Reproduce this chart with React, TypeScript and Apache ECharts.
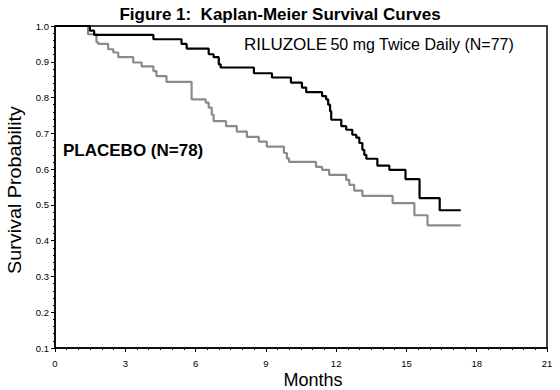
import React, { useEffect, useRef } from "react";
import * as echarts from "echarts";

const rilMonths = [0, 1.49, 1.67, 4.2, 5.4, 5.62, 6.56, 6.77, 6.99, 7.07, 8.49, 9.26, 10.07, 10.54, 10.72, 11.4, 11.57, 11.66, 11.74, 11.79, 12.22, 12.43, 12.69, 12.86, 12.99, 13.12, 13.2, 13.29, 13.76, 14.27, 14.96, 15.56, 16.42, 17.32];
const rilSurv = [1.0, 0.987, 0.975, 0.963, 0.95, 0.937, 0.921, 0.913, 0.893, 0.884, 0.868, 0.856, 0.842, 0.828, 0.815, 0.804, 0.795, 0.78, 0.762, 0.738, 0.72, 0.71, 0.696, 0.688, 0.673, 0.654, 0.64, 0.629, 0.61, 0.598, 0.572, 0.519, 0.485, 0.485];

const plaMonths = [0, 1.41, 1.77, 1.84, 2.27, 2.49, 2.7, 3.34, 3.7, 4.2, 4.33, 4.76, 5.83, 6.43, 6.56, 6.69, 6.77, 7.3, 7.76, 8.19, 8.7, 9.04, 9.77, 9.9, 9.99, 11.14, 11.4, 11.7, 12.43, 12.56, 12.77, 13.12, 14.41, 15.34, 15.9, 17.32];
const plaSurv = [1.0, 0.977, 0.955, 0.95, 0.935, 0.926, 0.913, 0.898, 0.887, 0.874, 0.86, 0.844, 0.795, 0.786, 0.772, 0.752, 0.734, 0.72, 0.705, 0.69, 0.677, 0.663, 0.645, 0.63, 0.62, 0.606, 0.598, 0.584, 0.57, 0.556, 0.54, 0.525, 0.505, 0.471, 0.443, 0.443];

const FONT = "'Liberation Sans', Arial, sans-serif";

export default function App() {
  const ref = useRef<HTMLDivElement>(null);
  useEffect(() => {
    if (!ref.current) return;
    const chart = echarts.init(ref.current, null, { renderer: "svg" });
    chart.setOption({
      animation: false,
      backgroundColor: "#ffffff",
      title: {
        text: "Figure 1:  Kaplan-Meier Survival Curves",
        left: "center",
        top: 1,
        textStyle: { fontFamily: FONT, fontSize: 17, fontWeight: "bold", color: "#000" },
      },
      grid: {
        left: 55,
        right: 13,
        top: 26,
        bottom: 42,
        show: true,
        borderColor: "#000",
        borderWidth: 1.5,
        backgroundColor: "transparent",
      },
      xAxis: {
        type: "value",
        min: 0,
        max: 21,
        interval: 3,
        axisLine: { show: true, lineStyle: { color: "#000", width: 1.5 } },
        axisTick: { show: true, length: 4, lineStyle: { color: "#000" } },
        minorTick: { show: true, splitNumber: 6, length: 2, lineStyle: { color: "#000" } },
        splitLine: { show: false },
        axisLabel: { fontFamily: FONT, fontSize: 9.5, color: "#000", margin: 10 },
      },
      yAxis: {
        type: "value",
        min: 0.1,
        max: 1.0,
        interval: 0.1,
        axisLine: { show: true, lineStyle: { color: "#000", width: 1.5 } },
        axisTick: { show: true, length: 4, lineStyle: { color: "#000" } },
        minorTick: { show: true, splitNumber: 5, length: 2, lineStyle: { color: "#000" } },
        splitLine: { show: false },
        axisLabel: {
          fontFamily: FONT,
          fontSize: 9.5,
          color: "#000",
          margin: 6,
          formatter: (v: number) => v.toFixed(1),
        },
      },
      series: [
        {
          name: "PLACEBO (N=78)",
          type: "line",
          step: "end",
          symbol: "none",
          data: plaMonths.map((m, i) => [m, plaSurv[i]]),
          lineStyle: { color: "#8a8a8a", width: 2.2 },
        },
        {
          name: "RILUZOLE 50 mg Twice Daily (N=77)",
          type: "line",
          step: "end",
          symbol: "none",
          data: rilMonths.map((m, i) => [m, rilSurv[i]]),
          lineStyle: { color: "#000", width: 2.2 },
        },
      ],
      graphic: [
        {
          type: "text",
          x: 244,
          y: 44,
          style: {
            text: "{a|RILUZOLE} {b|50 mg Twice Daily (N=77)}",
            verticalAlign: "middle",
            textVerticalAlign: "middle",
            rich: {
              a: { fontFamily: FONT, fontSize: 17, fill: "#000" },
              b: { fontFamily: FONT, fontSize: 16, fill: "#000" },
            },
          },
        },
        {
          type: "text",
          x: 63,
          y: 150,
          style: {
            text: "PLACEBO (N=78)",
            fontFamily: FONT,
            fontSize: 17,
            fontWeight: "bold",
            fill: "#000",
            verticalAlign: "middle",
            textVerticalAlign: "middle",
          },
        },
        {
          type: "text",
          x: 313,
          y: 380,
          style: {
            text: "Months",
            fontFamily: FONT,
            fontSize: 18,
            fill: "#000",
            align: "center",
            textAlign: "center",
            verticalAlign: "middle",
            textVerticalAlign: "middle",
          },
        },
        {
          type: "text",
          x: 14,
          y: 190,
          rotation: Math.PI / 2,
          scaleX: 1.04,
          style: {
            text: "Survival Probability",
            fontFamily: FONT,
            fontSize: 19,
            fill: "#000",
            align: "center",
            textAlign: "center",
            verticalAlign: "middle",
            textVerticalAlign: "middle",
          },
        },
      ],
    });
    return () => chart.dispose();
  }, []);
  return <div ref={ref} style={{ width: 560, height: 390, position: "absolute", left: 0, top: 0 }} />;
}
